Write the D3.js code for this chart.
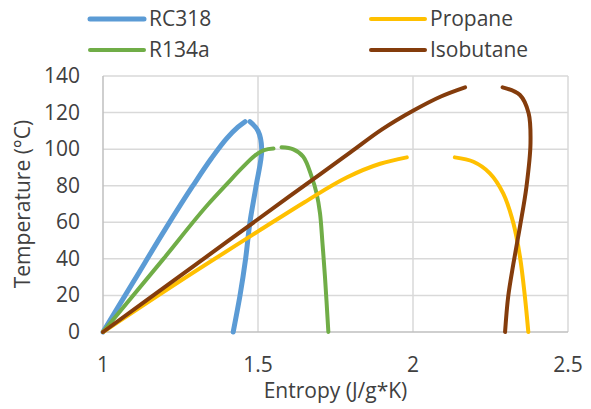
<!DOCTYPE html>
<html>
<head>
<meta charset="utf-8">
<script src="https://cdn.jsdelivr.net/npm/d3@7"></script>
<style>
  body { margin: 0; background: #fff; }
  text { font-family: "Open Sans", sans-serif; fill: #404040; }
</style>
</head>
<body>
<div id="chart"></div>
<script>
// chart size
let width = 591, height = 409;
let margin = {top: 76, right: 23, bottom: 77, left: 103};

// entropy (J/g*K) and temperature (°C), liquid and vapour branches
let rc318LiqS = [1.0, 1.1, 1.2, 1.29, 1.35, 1.4, 1.435, 1.458];
let rc318LiqT = [0, 28, 56, 80, 95, 106, 112, 115];
let rc318VapS = [1.474, 1.50, 1.512, 1.494, 1.474, 1.46, 1.442, 1.42];
let rc318VapT = [115, 110, 100, 80, 60, 40, 20, 0];

let r134aLiqS = [1.0, 1.195, 1.34, 1.40, 1.45, 1.49, 1.52, 1.55];
let r134aLiqT = [0, 40, 70, 81, 90, 96.5, 99.5, 100.3];
let r134aVapS = [1.576, 1.614, 1.646, 1.673, 1.689, 1.70, 1.708, 1.716, 1.727];
let r134aVapT = [101, 99.9, 95.9, 85, 75.8, 64.9, 48.5, 30.3, 0];

let propaneLiqS = [1.0, 1.25, 1.5, 1.65, 1.786, 1.894, 1.98];
let propaneLiqT = [0, 28, 55, 71, 84.5, 92, 95.5];
let propaneVapS = [2.135, 2.195, 2.248, 2.291, 2.324, 2.345, 2.361, 2.372];
let propaneVapT = [95.5, 93.1, 86.8, 75.8, 59.4, 41.2, 19.3, 0];

let isobutaneLiqS = [1.0, 1.3, 1.6, 1.8, 1.9, 2.0, 2.09, 2.168];
let isobutaneLiqT = [0, 37, 74, 98.5, 110.8, 121, 128.8, 133.8];
let isobutaneVapS = [2.289, 2.345, 2.373, 2.379, 2.366, 2.345, 2.324, 2.307, 2.297];
let isobutaneVapT = [133.8, 129.6, 119.6, 103.2, 79.5, 57.6, 37.5, 19.3, 0];

let seriesNames = ["RC318", "R134a", "Propane", "Isobutane"];
let seriesColors = ["#5b9bd5", "#70ad47", "#ffc000", "#843c0c"];
let seriesWidths = [5, 4, 4, 4];

let xTicks = [1, 1.5, 2, 2.5];
let yTicks = [0, 20, 40, 60, 80, 100, 120, 140];

function zip(s, t) {
    let out = [];
    for (let i = 0; i < s.length; i++) out.push([s[i], t[i]]);
    return out;
}

let series = [
    [zip(rc318LiqS, rc318LiqT), zip(rc318VapS, rc318VapT)],
    [zip(r134aLiqS, r134aLiqT), zip(r134aVapS, r134aVapT)],
    [zip(propaneLiqS, propaneLiqT), zip(propaneVapS, propaneVapT)],
    [zip(isobutaneLiqS, isobutaneLiqT), zip(isobutaneVapS, isobutaneVapT)]
];

let svg = d3.select("#chart").append("svg")
    .attr("width", width)
    .attr("height", height);

let x = d3.scaleLinear().domain([1, 2.5]).range([margin.left, width - margin.right]);
let y = d3.scaleLinear().domain([0, 140]).range([height - margin.bottom, margin.top]);

// grid
svg.append("g").selectAll("line").data(yTicks.slice(1)).enter().append("line")
    .attr("x1", x(1)).attr("x2", x(2.5))
    .attr("y1", d => y(d)).attr("y2", d => y(d))
    .attr("stroke", "#d9d9d9").attr("stroke-width", 1.5);
svg.append("g").selectAll("line").data(xTicks.slice(1)).enter().append("line")
    .attr("x1", d => x(d)).attr("x2", d => x(d))
    .attr("y1", y(0)).attr("y2", y(140))
    .attr("stroke", "#d9d9d9").attr("stroke-width", 1.5);

// axis lines
svg.append("line").attr("x1", x(1)).attr("x2", x(1)).attr("y1", y(0)).attr("y2", y(140))
    .attr("stroke", "#bfbfbf").attr("stroke-width", 1.5);
svg.append("line").attr("x1", x(1)).attr("x2", x(2.5)).attr("y1", y(0)).attr("y2", y(0))
    .attr("stroke", "#bfbfbf").attr("stroke-width", 1.5);

// tick labels
svg.append("g").selectAll("text").data(yTicks).enter().append("text")
    .attr("x", 80).attr("y", d => y(d) + 7)
    .attr("text-anchor", "end").style("font-size", "21px")
    .text(d => d);
svg.append("g").selectAll("text").data(xTicks).enter().append("text")
    .attr("x", d => x(d)).attr("y", 372)
    .attr("text-anchor", "middle").style("font-size", "21px")
    .text(d => d);

// axis titles
svg.append("text").attr("x", (x(1) + x(2.5)) / 2).attr("y", 398)
    .attr("text-anchor", "middle").style("font-size", "21px")
    .text("Entropy (J/g*K)");
svg.append("text")
    .attr("transform", "translate(30," + ((y(0) + y(140)) / 2) + ") rotate(-90)")
    .attr("text-anchor", "middle").style("font-size", "21px")
    .text("Temperature (°C)");

// curves: liquid side is monotone in entropy, vapour side bends back so use catmull-rom
let liqLine = d3.line()
    .x(d => x(d[0]))
    .y(d => y(d[1]))
    .curve(d3.curveMonotoneX);
let vapLine = d3.line()
    .x(d => x(d[0]))
    .y(d => y(d[1]))
    .curve(d3.curveCatmullRom.alpha(0.5));

series.forEach(function(branches, i) {
    branches.forEach(function(pts, j) {
        svg.append("path")
            .attr("d", j == 0 ? liqLine(pts) : vapLine(pts))
            .attr("fill", "none")
            .attr("stroke", seriesColors[i])
            .attr("stroke-width", seriesWidths[i])
            .attr("stroke-linecap", "round");
    });
});

// legend
let legendCols = [90, 371];
let legendRows = [19, 50];
seriesNames.forEach(function(name, i) {
    let cx = legendCols[Math.floor(i / 2)];
    let cy = legendRows[i % 2];
    svg.append("line")
        .attr("x1", cx).attr("x2", cx + 54)
        .attr("y1", cy).attr("y2", cy)
        .attr("stroke", seriesColors[i])
        .attr("stroke-width", seriesWidths[i])
        .attr("stroke-linecap", "round");
    svg.append("text")
        .attr("x", cx + 59).attr("y", cy + 7)
        .style("font-size", "21px")
        .text(name);
});
</script>
</body>
</html>
